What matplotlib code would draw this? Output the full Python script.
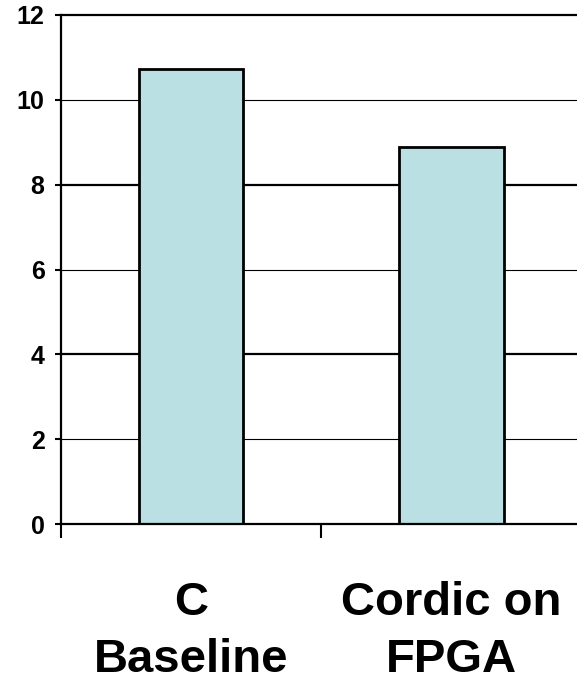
import matplotlib
matplotlib.use('Agg')
import matplotlib.pyplot as plt

# Datos
categorias = ['C\nBaseline', 'Cordic on\nFPGA']
valores = [10.73, 8.89]
marcas_y = [0, 2, 4, 6, 8, 10, 12]

plt.rcParams['font.family'] = ['Liberation Sans', 'DejaVu Sans']

fig = plt.figure(figsize=(5.77, 6.88), dpi=100)
ax = fig.add_axes([60.5 / 577, 1 - 524 / 688, (582 - 60.5) / 577, (524 - 15) / 688])

posiciones = list(range(len(categorias)))
ax.bar(posiciones, valores, width=0.4, color='#bbe0e3', edgecolor='black',
       linewidth=2, zorder=3)

ax.set_xlim(-0.5, len(categorias) - 0.5)
ax.set_ylim(0, 12)
ax.set_yticks(marcas_y)
ax.set_yticklabels([str(v) for v in marcas_y], fontsize=18, fontweight='bold')

# lineas de cuadricula (alternan grosor como en el original)
for v in marcas_y[1:]:
    grueso = 2.0 if v % 4 == 0 else 1.0
    ax.axhline(v, color='black', linewidth=grueso * 0.8, zorder=1,
               clip_on=False)

ax.set_xticks(posiciones)
ax.set_xticklabels(categorias, fontsize=34, fontweight='bold', linespacing=1.38)
ax.set_xticks([p - 0.5 for p in posiciones] + [len(categorias) - 0.5], minor=True)
ax.tick_params(axis='x', which='major', length=0, pad=41)
ax.tick_params(axis='x', which='minor', length=10, width=1.5, direction='out')
ax.tick_params(axis='y', length=4.5, width=1.5, direction='out', pad=7)

for lado in ['top', 'right']:
    ax.spines[lado].set_visible(False)
for lado in ['left', 'bottom']:
    ax.spines[lado].set_linewidth(1.6)
    ax.spines[lado].set_zorder(4)

fig.savefig('out.png', dpi=100)
